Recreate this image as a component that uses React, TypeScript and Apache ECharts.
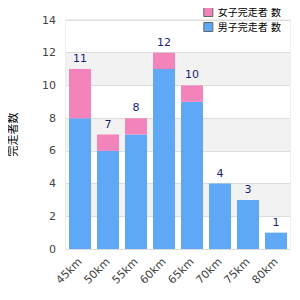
import React, { useEffect, useRef } from "react";
import * as echarts from "echarts";

const categories = ["45km", "50km", "55km", "60km", "65km", "70km", "75km", "80km"];
const blueValues = [8, 6, 7, 11, 9, 4, 3, 1];
const pinkValues = [3, 1, 1, 1, 1, 0, 0, 0];
const pinkName = "女子完走者 数";
const blueName = "男子完走者 数";
const yAxisName = "完走者数";

export default function App() {
  const ref = useRef<HTMLDivElement>(null);
  useEffect(() => {
    if (!ref.current) return;
    const chart = echarts.init(ref.current, undefined, { renderer: "svg" });
    const totals = blueValues.map((v, i) => v + pinkValues[i]);
    chart.setOption({
      animation: false,
      textStyle: { fontFamily: "'DejaVu Sans', 'Noto Sans CJK JP', sans-serif" },
      legend: {
        orient: "vertical",
        right: 14,
        top: 2,
        itemWidth: 9,
        itemHeight: 9,
        itemGap: 5,
        icon: "rect",
        data: [
          { name: pinkName, itemStyle: { borderColor: "#666", borderWidth: 1 } },
          { name: blueName, itemStyle: { borderColor: "#666", borderWidth: 1 } },
        ],
        textStyle: { fontSize: 10, color: "#000" },
      },
      grid: {
        left: 50,
        right: 10,
        top: 20,
        bottom: 51,
        show: true,
        borderColor: "#dddddd",
        borderWidth: 1,
      },
      xAxis: {
        type: "category",
        data: categories,
        axisLine: { show: false },
        axisTick: { show: false },
        axisLabel: { rotate: 45, fontSize: 11, color: "#444", margin: 11 },
      },
      yAxis: {
        type: "value",
        min: 0,
        max: 14,
        interval: 2,
        name: yAxisName,
        nameLocation: "middle",
        nameRotate: 90,
        nameGap: 47,
        nameTextStyle: { fontSize: 11, color: "#000" },
        axisLine: { show: false },
        axisTick: { show: false },
        axisLabel: { fontSize: 11, color: "#444", margin: 10 },
        splitLine: { lineStyle: { color: "#dddddd" } },
        splitArea: { show: true, areaStyle: { color: ["#ffffff", "#f2f2f2"] } },
      },
      series: [
        {
          name: blueName,
          type: "bar",
          stack: "total",
          barWidth: 22,
          data: blueValues,
          itemStyle: { color: "#5fa8f5" },
        },
        {
          name: pinkName,
          type: "bar",
          stack: "total",
          barWidth: 22,
          data: pinkValues,
          itemStyle: { color: "#f383bb" },
          label: {
            show: true,
            position: "top",
            fontSize: 11,
            color: "#1c1c7a",
            distance: 5,
            formatter: (p: any) => String(totals[p.dataIndex]),
          },
        },
      ],
    });
    return () => chart.dispose();
  }, []);
  return <div ref={ref} style={{ width: 300, height: 300, marginLeft: -8, marginTop: -8 }} />;
}
